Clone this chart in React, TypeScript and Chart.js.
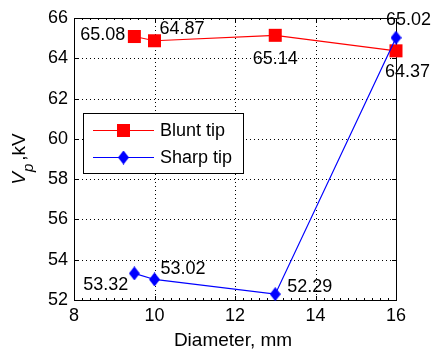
import React, { useEffect, useRef } from "react";
import { Chart, registerables } from "chart.js";

Chart.register(...registerables);

const diameters = [9.5, 10, 13, 16];
const bluntTip = [65.08, 64.87, 65.14, 64.37];
const sharpTip = [53.32, 53.02, 52.29, 65.02];
const seriesNames = ["Blunt tip", "Sharp tip"];
const xTickValues = [8, 10, 12, 14, 16];
const yTickValues = [52, 54, 56, 58, 60, 62, 64, 66];
const xMinorStep = 0.2;
const xTitle = "Diameter, mm";
const yTitleMain = "V";
const yTitleSub = "p";
const yTitleRest = ",kV";

// label placement (styling only)
const bluntLabelPos = [
  { dx: -9, dy: -2, align: "right" },
  { dx: 5, dy: -12, align: "left" },
  { dx: 0, dy: 24, align: "center" },
  { dx: -11, dy: 21, align: "left" },
];
const sharpLabelPos = [
  { dx: -6, dy: 12, align: "right" },
  { dx: 6, dy: -10, align: "left" },
  { dx: 12, dy: -7, align: "left" },
  { dx: -10, dy: -18, align: "left" },
];

const FONT = "'Liberation Sans', Arial, sans-serif";
const RED = "#ff0000";
const BLUE = "#0000ff";

function makeDiamond(color: string): HTMLCanvasElement {
  const c = document.createElement("canvas");
  c.width = 11;
  c.height = 14;
  const g = c.getContext("2d")!;
  g.fillStyle = color;
  g.beginPath();
  g.moveTo(5.5, 0);
  g.lineTo(11, 7);
  g.lineTo(5.5, 14);
  g.lineTo(0, 7);
  g.closePath();
  g.fill();
  return c;
}

export default function App() {
  const ref = useRef<HTMLCanvasElement | null>(null);

  useEffect(() => {
    document.body.style.margin = "0";
    const canvas = ref.current!;
    const diamond = makeDiamond(BLUE);

    const framePlugin = {
      id: "frame",
      beforeDatasetsDraw(chart: any) {
        const ctx = chart.ctx;
        const xs = chart.scales.x;
        const ys = chart.scales.y;
        const ca = chart.chartArea;
        const L = Math.round(ca.left), R = Math.round(ca.right);
        const T = Math.round(ca.top), B = Math.round(ca.bottom);
        ctx.save();
        ctx.strokeStyle = "#000";
        ctx.lineWidth = 1;
        ctx.setLineDash([1, 3]);
        for (const v of xTickValues) {
          if (v <= xs.min || v >= xs.max) continue;
          const px = Math.round(xs.getPixelForValue(v)) + 0.5;
          ctx.beginPath();
          ctx.moveTo(px, T);
          ctx.lineTo(px, B);
          ctx.stroke();
        }
        for (const v of yTickValues) {
          if (v <= ys.min || v >= ys.max) continue;
          const py = Math.round(ys.getPixelForValue(v)) + 0.5;
          ctx.beginPath();
          ctx.moveTo(L, py);
          ctx.lineTo(R, py);
          ctx.stroke();
        }
        ctx.setLineDash([]);
        ctx.strokeRect(L + 0.5, T + 0.5, R - L, B - T);
        // major ticks
        ctx.beginPath();
        for (const v of xTickValues) {
          const px = Math.round(xs.getPixelForValue(v)) + 0.5;
          ctx.moveTo(px, B);
          ctx.lineTo(px, B - 4);
          ctx.moveTo(px, T);
          ctx.lineTo(px, T + 4);
        }
        for (const v of yTickValues) {
          const py = Math.round(ys.getPixelForValue(v)) + 0.5;
          ctx.moveTo(L, py);
          ctx.lineTo(L + 4, py);
          ctx.moveTo(R, py);
          ctx.lineTo(R - 4, py);
        }
        // minor ticks on x
        const n = Math.round((xs.max - xs.min) / xMinorStep);
        for (let i = 1; i < n; i++) {
          const v = xs.min + i * xMinorStep;
          const px = Math.round(xs.getPixelForValue(v)) + 0.5;
          ctx.moveTo(px, B);
          ctx.lineTo(px, B - 2);
          ctx.moveTo(px, T);
          ctx.lineTo(px, T + 2);
        }
        ctx.stroke();
        ctx.restore();
      },
      afterDatasetsDraw(chart: any) {
        const ctx = chart.ctx;
        ctx.save();
        ctx.font = `18px ${FONT}`;
        ctx.fillStyle = "#000";
        ctx.textBaseline = "middle";
        const sets = [
          { idx: 0, vals: bluntTip, pos: bluntLabelPos },
          { idx: 1, vals: sharpTip, pos: sharpLabelPos },
        ];
        for (const s of sets) {
          const meta = chart.getDatasetMeta(s.idx);
          meta.data.forEach((pt: any, i: number) => {
            const p = s.pos[i];
            ctx.textAlign = p.align as CanvasTextAlign;
            ctx.fillText(s.vals[i].toFixed(2), pt.x + p.dx, pt.y + p.dy);
          });
        }
        // legend
        const bx = 83.5, by = 113.5, bw = 160, bh = 60;
        ctx.fillStyle = "#fff";
        ctx.fillRect(bx, by, bw, bh);
        ctx.strokeStyle = "#000";
        ctx.lineWidth = 1;
        ctx.strokeRect(bx, by, bw, bh);
        const rows = [
          { y: 130, color: RED, name: seriesNames[0], marker: "rect" },
          { y: 157, color: BLUE, name: seriesNames[1], marker: "diamond" },
        ];
        for (const r of rows) {
          ctx.strokeStyle = r.color;
          ctx.beginPath();
          ctx.moveTo(93, r.y + 0.5);
          ctx.lineTo(154, r.y + 0.5);
          ctx.stroke();
          if (r.marker === "rect") {
            ctx.fillStyle = r.color;
            ctx.fillRect(117, r.y - 6, 13, 13);
          } else {
            ctx.drawImage(diamond, 118, r.y - 6.5);
          }
          ctx.fillStyle = "#000";
          ctx.textAlign = "left";
          ctx.textBaseline = "middle";
          ctx.fillText(r.name, 160, r.y + 1);
        }
        ctx.restore();
      },
      afterDraw(chart: any) {
        const ctx = chart.ctx;
        const ca = chart.chartArea;
        ctx.save();
        ctx.fillStyle = "#000";
        // x title
        ctx.font = `19px ${FONT}`;
        ctx.textAlign = "center";
        ctx.textBaseline = "alphabetic";
        ctx.fillText(xTitle, (ca.left + ca.right) / 2 - 2, 346);
        // y title
        const cy = (ca.top + ca.bottom) / 2;
        const gap = 3;
        ctx.translate(25, cy);
        ctx.rotate(-Math.PI / 2);
        ctx.textAlign = "left";
        const fMain = `italic 19px ${FONT}`;
        const fSub = `italic 15px ${FONT}`;
        const fRest = `19px ${FONT}`;
        ctx.font = fMain;
        const w1 = ctx.measureText(yTitleMain).width;
        ctx.font = fSub;
        const w2 = ctx.measureText(yTitleSub).width;
        ctx.font = fRest;
        const w3 = ctx.measureText(yTitleRest).width;
        let x = -(w1 + w2 + gap + w3) / 2;
        ctx.font = fMain;
        ctx.fillText(yTitleMain, x, 0);
        x += w1;
        ctx.font = fSub;
        ctx.fillText(yTitleSub, x, 8);
        x += w2 + gap;
        ctx.font = fRest;
        ctx.fillText(yTitleRest, x, 0);
        ctx.restore();
      },
    };

    const chart = new Chart(canvas, {
      type: "line",
      data: {
        datasets: [
          {
            label: seriesNames[0],
            data: diameters.map((d, i) => ({ x: d, y: bluntTip[i] })),
            borderColor: RED,
            backgroundColor: RED,
            borderWidth: 1.2,
            pointStyle: "rect",
            pointRadius: 9.2,
            pointBorderWidth: 0,
            pointBackgroundColor: RED,
            tension: 0,
            order: 1,
            clip: false,
          },
          {
            label: seriesNames[1],
            data: diameters.map((d, i) => ({ x: d, y: sharpTip[i] })),
            borderColor: BLUE,
            backgroundColor: BLUE,
            borderWidth: 1.2,
            pointStyle: diamond,
            pointRadius: 7,
            pointBorderWidth: 0,
            tension: 0,
            order: 0,
            clip: false,
          },
        ],
      } as any,
      options: {
        responsive: false,
        animation: false,
        events: [],
        layout: { padding: { left: 0, right: 38, top: 18, bottom: 0 } },
        plugins: {
          legend: { display: false },
          tooltip: { enabled: false },
          title: { display: false },
        },
        scales: {
          x: {
            type: "linear",
            min: 8,
            max: 16,
            afterFit: (s: any) => {
              s.height = 54;
            },
            afterBuildTicks: (s: any) => {
              s.ticks = xTickValues.map((v) => ({ value: v }));
            },
            ticks: {
              font: { family: FONT, size: 18 },
              color: "#000",
              padding: 5,
              maxRotation: 0,
              autoSkip: false,
            },
            grid: { display: false, drawTicks: false },
            border: { display: false },
          },
          y: {
            type: "linear",
            min: 52,
            max: 66,
            afterFit: (s: any) => {
              s.width = 74;
            },
            afterBuildTicks: (s: any) => {
              s.ticks = yTickValues.map((v) => ({ value: v }));
            },
            ticks: {
              font: { family: FONT, size: 18 },
              color: "#000",
              padding: 6,
              autoSkip: false,
            },
            grid: { display: false, drawTicks: false },
            border: { display: false },
          },
        },
      } as any,
      plugins: [framePlugin],
    });
    return () => chart.destroy();
  }, []);

  return (
    <div style={{ position: "absolute", left: 0, top: 0, width: 434, height: 354, background: "#fff" }}>
      <canvas ref={ref} width={434} height={354} style={{ width: 434, height: 354, display: "block" }} />
    </div>
  );
}
